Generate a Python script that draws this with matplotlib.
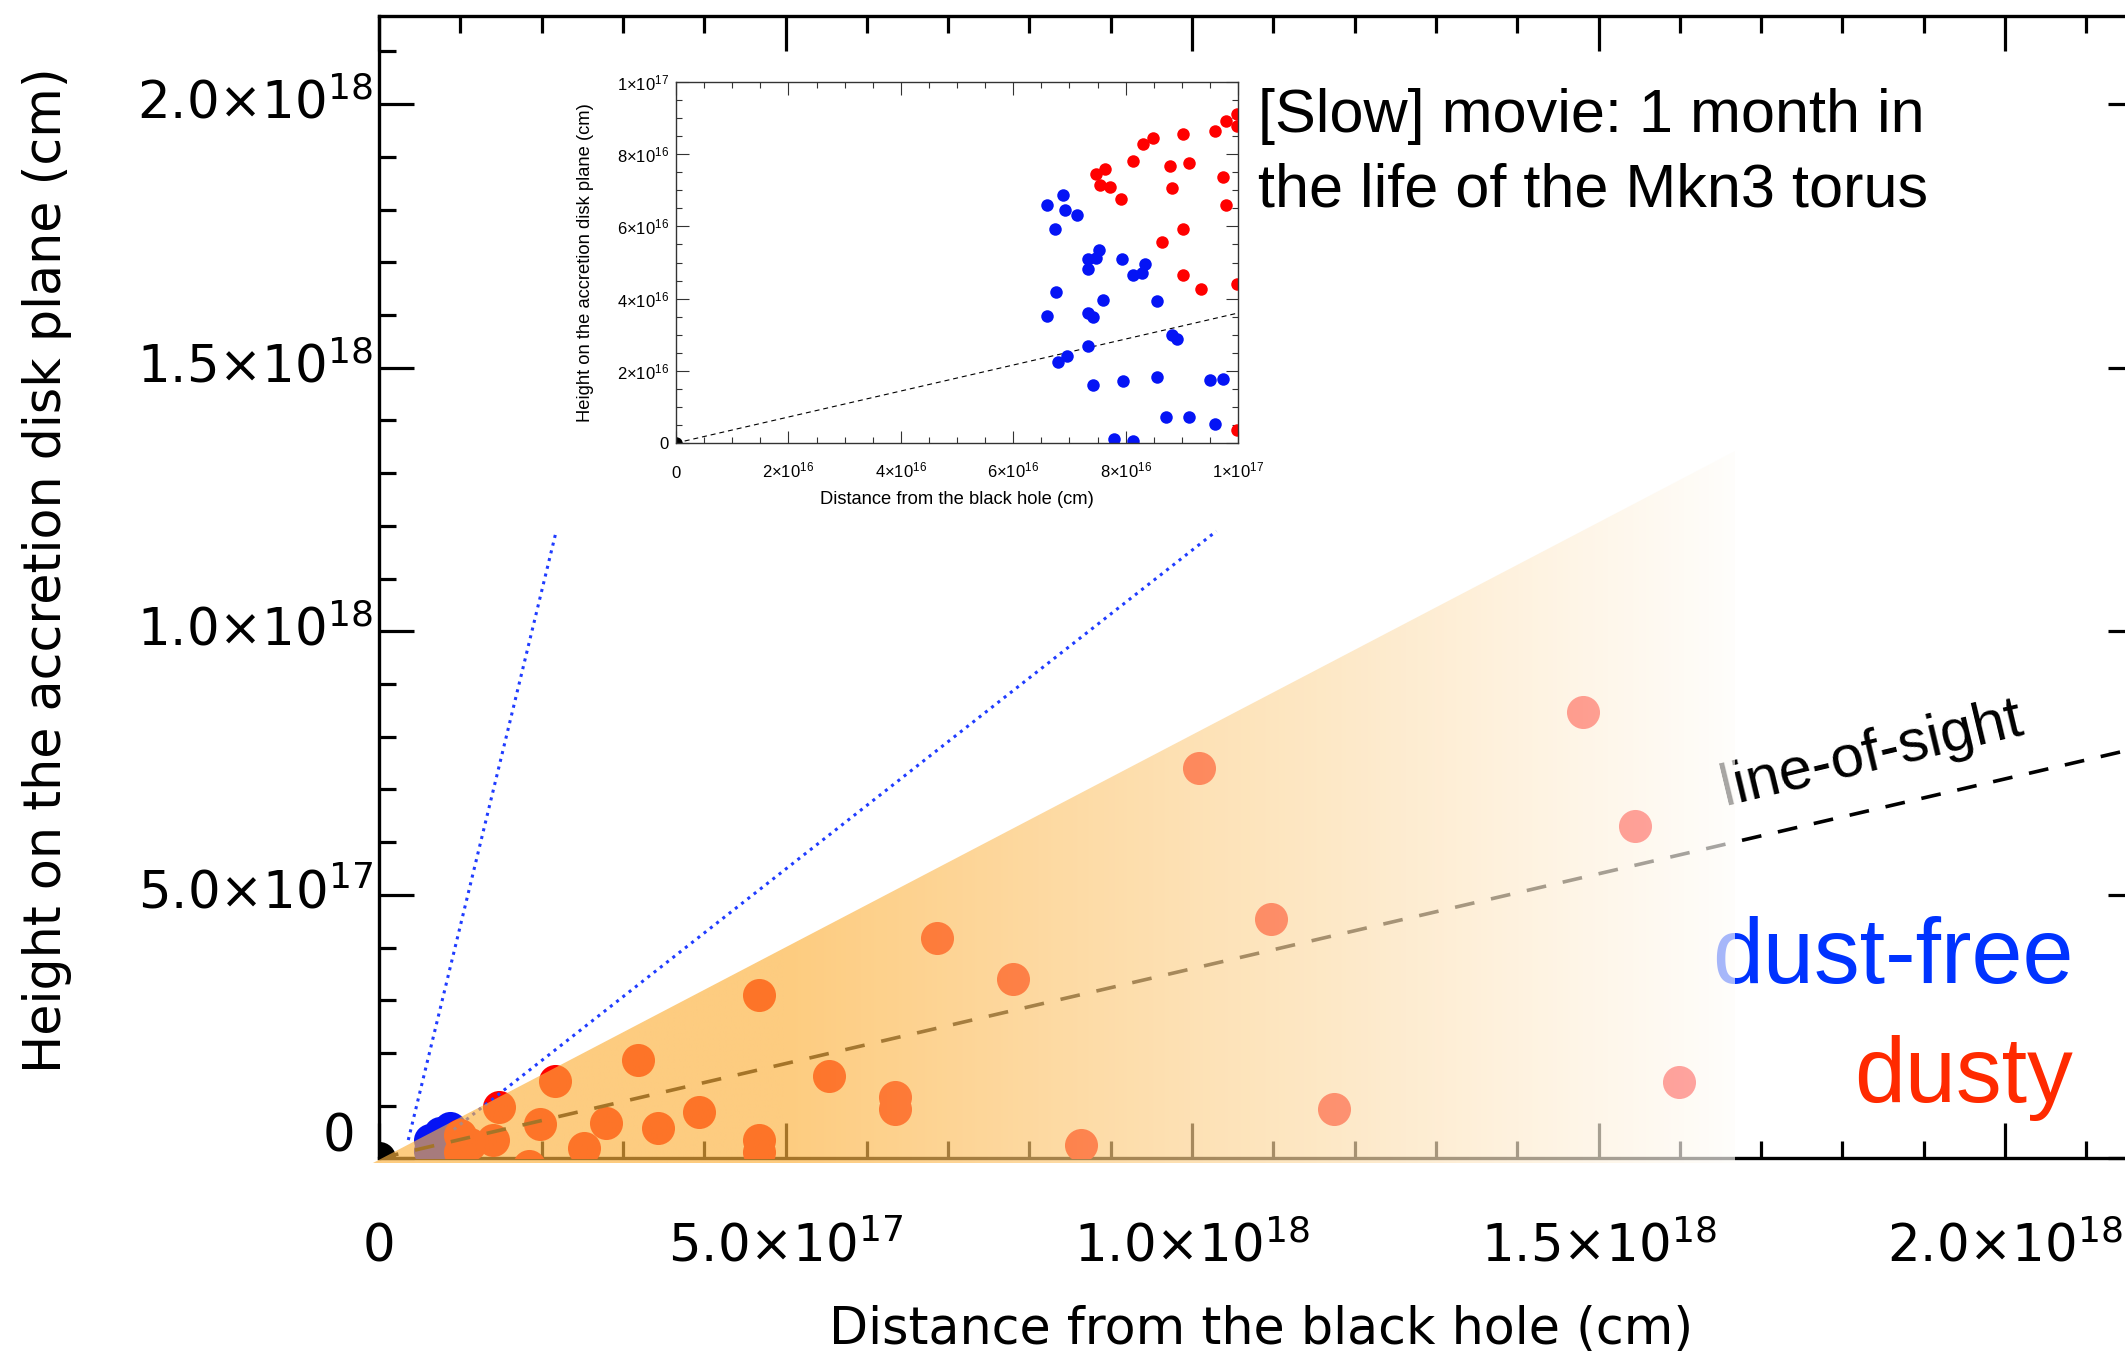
"""Mkn 3 torus: cloud heights above the accretion disk vs. distance from the black hole."""

import numpy as np
import matplotlib
matplotlib.use("Agg")
import matplotlib.pyplot as plt
from matplotlib.patches import Polygon
from matplotlib.ticker import MultipleLocator

E16, E18 = 1e16, 1e18

# clouds inside 1e17 cm shown in the zoomed inset, units of 1e16 cm
free_x = [6.61, 6.89, 6.92, 6.75, 7.14, 7.33, 7.33, 7.52, 7.48, 7.94, 8.13, 8.29,
          8.35, 6.76, 7.60, 6.61, 7.33, 7.42, 8.56, 8.83, 8.91, 7.33, 6.96, 6.79,
          7.42, 7.95, 8.56, 9.50, 9.74, 8.71, 9.13, 9.59, 7.80, 8.13]
free_y = [6.59, 6.87, 6.45, 5.92, 6.31, 5.09, 4.82, 5.35, 5.12, 5.09, 4.65, 4.70,
          4.95, 4.17, 3.96, 3.53, 3.61, 3.50, 3.94, 3.00, 2.88, 2.69, 2.41, 2.24,
          1.61, 1.71, 1.82, 1.75, 1.77, 0.71, 0.72, 0.53, 0.12, 0.06]
dusty_x = [9.98, 9.78, 9.59, 9.98, 9.02, 8.48, 8.31, 8.13, 8.79, 9.13, 7.48, 7.63,
           7.54, 7.72, 8.83, 7.92, 9.74, 9.79, 9.02, 8.65, 9.02, 9.34, 9.98, 9.98]
dusty_y = [9.12, 8.92, 8.64, 8.77, 8.55, 8.46, 8.29, 7.82, 7.67, 7.76, 7.44, 7.59,
           7.16, 7.10, 7.07, 6.77, 7.37, 6.59, 5.93, 5.56, 4.65, 4.26, 4.40, 0.37]

# main panel, units of 1e18 cm: the inner clump ...
clump_free_x = [0.063, 0.075, 0.087, 0.063, 0.080]
clump_free_y = [0.035, 0.048, 0.057, 0.015, 0.025]
clump_dusty_x = [0.100, 0.100, 0.112]
clump_dusty_y = [0.045, 0.012, 0.028]
# ... and the dusty clouds further out
outer_x = [0.467, 0.318, 0.217, 0.147, 0.198, 0.279, 0.343, 0.394, 0.554, 0.467,
           0.467, 0.252, 0.185, 0.140, 0.686, 0.780, 1.008, 1.097, 0.635, 0.635,
           0.864, 1.481, 1.545, 1.175, 1.599]
outer_y = [0.310, 0.187, 0.147, 0.098, 0.065, 0.068, 0.058, 0.089, 0.157, 0.035,
           0.013, 0.019, -0.014, 0.035, 0.418, 0.341, 0.741, 0.455, 0.116, 0.093,
           0.026, 0.846, 0.631, 0.094, 0.146]

# line of sight (height / distance) and the dust-free cone edges (1e18 cm)
LOS_SLOPE = 0.36
cone_inner_x, cone_inner_y = [0.036, 0.218], [0.035, 1.19]
cone_outer_x, cone_outer_y = [0.092, 1.030], [0.055, 1.19]

# shaded wedge holding the dusty clouds (1e18 cm)
wedge_x = [-0.008, 1.668, 1.668]
wedge_y = [-0.009, 1.342, -0.009]

main_ticks = [0, 0.5e18, 1.0e18, 1.5e18, 2.0e18]
main_labels = ["0", "5.0", "1.0", "1.5", "2.0"]
main_exps = [0, 17, 18, 18, 18]
inset_ticks = [0, 2e16, 4e16, 6e16, 8e16, 1e17]
inset_labels = ["0", "2", "4", "6", "8", "1"]
inset_exps = [0, 16, 16, 16, 16, 17]


def sci(m, e):
    if m == "0":
        return "0"
    return r"$\mathdefault{%s×10^{%d}}$" % (m, e)


plt.rcParams["font.family"] = "DejaVu Sans"
fig = plt.figure(figsize=(21.25, 13.58), dpi=100)

X1, Y1 = 2.1697e18, 2.1671e18
pos = [0.17835, 0.14691, 0.83012, 0.84131]
ax = fig.add_axes(pos)

ms = 23.8
ax.plot(np.array(clump_free_x) * E18, np.array(clump_free_y) * E18, "o", ms=ms,
        mew=0, color="#0514f5", zorder=3)
ax.plot(np.array(clump_dusty_x) * E18, np.array(clump_dusty_y) * E18, "o", ms=ms,
        mew=0, color="#ff0000", zorder=3)
ax.plot(np.array(outer_x) * E18, np.array(outer_y) * E18, "o", ms=ms, mew=0,
        color="#ff0000", zorder=3)
ax.plot([0], [0], "o", ms=ms, mew=0, color="k", zorder=3.5)

for xs, ys in ((cone_inner_x, cone_inner_y), (cone_outer_x, cone_outer_y)):
    ax.plot(np.array(xs) * E18, np.array(ys) * E18, color="#1f3cff", lw=2.2,
            ls=(0, (1, 1.6)), zorder=4)
xx = np.array([0, X1])
ax.plot(xx, LOS_SLOPE * xx, color="k", lw=2.6, ls=(0, (5.5, 4.7)), zorder=4)

ax.text(1.656e18, 0.6705e18, "line-of-sight", rotation=13.5, rotation_mode="anchor",
        ha="left", va="baseline", fontsize=43, family="Liberation Sans", zorder=3)
ax.text(2.084e18, 0.333e18, "dust-free", ha="right", va="baseline", fontsize=66,
        family="Liberation Sans", color="#0033ff", zorder=3)
ax.text(2.084e18, 0.107e18, "dusty", ha="right", va="baseline", fontsize=66,
        family="Liberation Sans", color="#ff2a00", zorder=3)

ax.set_xlim(0, X1)
ax.set_ylim(0, Y1)
ax.set_xticks(main_ticks, [sci(m, e) for m, e in zip(main_labels, main_exps)])
ax.set_yticks(main_ticks, [""] + [sci(m, e) for m, e in zip(main_labels[1:], main_exps[1:])])
ax.xaxis.set_minor_locator(MultipleLocator(1e17))
ax.yaxis.set_minor_locator(MultipleLocator(1e17))
ax.tick_params(which="both", direction="in", top=True, right=True, width=2.3,
               labelsize=37)
ax.tick_params(which="major", length=25)
ax.tick_params(which="minor", length=12)
ax.tick_params(axis="x", pad=74.5)
ax.tick_params(axis="y", pad=4.3)
for lab in ax.get_xticklabels():
    lab.set_va("baseline")
for lab in ax.get_yticklabels():
    lab.set_va("center")
for s in ax.spines.values():
    s.set_linewidth(2.4)
ax.annotate("0", xy=(0, 0), xytext=(-17.3, 14.8), textcoords="offset points",
            ha="right", va="center", fontsize=37, annotation_clip=False)

fig.text(0.5936, 0.0206, "Distance from the black hole (cm)", ha="center",
         va="center", fontsize=36.5)
fig.text(0.0221, 0.5799, "Height on the accretion disk plane (cm)", rotation=90,
         ha="center", va="center", fontsize=36.5)

# translucent wedge fading from orange to white, laid over the main panel
xlo, ylo = -0.02e18, -0.025e18
fx = -xlo / X1 * pos[2]
fy = -ylo / Y1 * pos[3]
ov = fig.add_axes([pos[0] - fx, pos[1] - fy, pos[2] + fx, pos[3] + fy])
wx = np.array(wedge_x) * E18
wy = np.array(wedge_y) * E18
gx = np.linspace(wx.min(), wx.max(), 600)
t = np.clip((gx - 0.5e18) / (1.70e18 - 0.5e18), 0, 1)[:, None]
orange = np.array([252, 178, 62]) / 255
img = np.ones((2, gx.size, 4))
img[..., :3] = (orange * (1 - t) + t)[None]
img[..., 3] = 0.66
im = ov.imshow(img, extent=(wx.min(), wx.max(), wy.min(), wy.max()), origin="lower",
               aspect="auto", interpolation="bilinear")
im.set_clip_path(Polygon(np.column_stack([wx, wy]), closed=True, transform=ov.transData))
ov.set_xlim(xlo, X1)
ov.set_ylim(ylo, Y1)
ov.set_axis_off()

# zoomed inset of the inner 1e17 cm
ins = fig.add_axes([0.31812, 0.67378, 0.26447, 0.26583])
ixx = np.array([0, 1e17])
ins.plot(ixx, LOS_SLOPE * ixx, color="k", lw=0.8, ls=(0, (4.5, 3.5)))
ins.plot(np.array(free_x) * E16, np.array(free_y) * E16, "o", ms=9, mew=0,
         color="#0514f5")
ins.plot(np.array(dusty_x) * E16, np.array(dusty_y) * E16, "o", ms=9, mew=0,
         color="#ff0000")
ins.plot([0], [0], "o", ms=9, mew=0, color="k")
ins.set_xlim(0, 1e17)
ins.set_ylim(0, 1e17)
ilabels = [sci(m, e) for m, e in zip(inset_labels, inset_exps)]
ins.set_xticks(inset_ticks, ilabels)
ins.set_yticks(inset_ticks, ilabels)
ins.xaxis.set_minor_locator(MultipleLocator(0.5e16))
ins.yaxis.set_minor_locator(MultipleLocator(0.5e16))
ins.tick_params(which="both", direction="in", top=True, right=True, color="#333333",
                width=0.8, labelsize=12, labelfontfamily="Liberation Sans")
ins.tick_params(which="major", length=9)
ins.tick_params(which="minor", length=4.5)
ins.tick_params(axis="x", pad=25)
ins.tick_params(axis="y", pad=5)
for lab in ins.get_xticklabels():
    lab.set_va("baseline")
for s in ins.spines.values():
    s.set_linewidth(1.0)
    s.set_color("#333333")
fig.text(0.4504, 1 - 500 / 1358, "Distance from the black hole (cm)", ha="center",
         va="center", fontsize=13.2, family="Liberation Sans")
fig.text(585.5 / 2125, 1 - 263 / 1358, "Height on the accretion disk plane (cm)",
         rotation=90, ha="center", va="center", fontsize=13.2, family="Liberation Sans")

fig.text(0.592, 0.903, "[Slow] movie: 1 month in", ha="left", va="baseline",
         fontsize=44, family="Liberation Sans")
fig.text(0.592, 0.8478, "the life of the Mkn3 torus", ha="left", va="baseline",
         fontsize=44, family="Liberation Sans")

fig.savefig("out.png", dpi=100)
